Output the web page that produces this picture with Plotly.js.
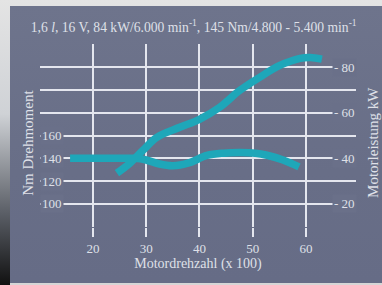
<!DOCTYPE html>
<html>
<head>
<meta charset="utf-8">
<script src="https://cdn.plot.ly/plotly-3.0.1.min.js"></script>
<style>
  html, body { margin: 0; padding: 0; width: 382px; height: 285px; overflow: hidden;
    background: linear-gradient(to bottom, #e4e4e4 0%, #cfd2d6 40%, #5a5e66 75%, #111 100%); }
  #panel { position: absolute; left: 10px; top: 6px; width: 372px; height: 277px;
    background: linear-gradient(to bottom, #6e748c 0%, #686e87 60%, #666c86 100%); }
  #bottom { position: absolute; left: 10px; top: 283px; width: 372px; height: 2px; background: #d6d6d6; }
  #chart { position: absolute; left: 0; top: 0; width: 382px; height: 285px; }
</style>
</head>
<body>
<div id="panel"></div>
<div id="bottom"></div>
<div id="chart"></div>
<script>
// Data
const torqueRpm = [15.7, 20, 25, 28, 30, 32.5, 35, 38, 41.4, 44.5, 47.6, 50.5, 52.7, 55.7, 58.7];
const torqueNm  = [140, 140, 140, 140, 138.5, 135, 133.5, 136, 142.5, 144.5, 145, 144.5, 142.7, 138.5, 132.5];
const powerRpm  = [24.5, 26.9, 29.4, 32, 36.3, 40, 43.8, 47.6, 51.3, 55.1, 58.9, 60.8, 63];
const powerKw   = [33.5, 37.8, 43.5, 49.2, 53.6, 57.1, 62.4, 69.8, 75.5, 80.7, 83.8, 84.2, 83.5];
const xTicks    = [20, 30, 40, 50, 60];
const leftTicks = [100, 120, 140, 160];
const rightTicks = [20, 40, 60, 80];

const panel = '#6a7089';
const teal = '#1ea7b9';
const txt = '#dfe0e8';
const grid = '#e4e6ee';
const serif = 'Liberation Serif, Times New Roman, serif';

const traces = [
  { x: torqueRpm, y: torqueNm, type: 'scatter', mode: 'lines', yaxis: 'y',
    line: { color: teal, width: 7.5, shape: 'spline', smoothing: 1 }, hoverinfo: 'skip' },
  { x: powerRpm, y: powerKw, type: 'scatter', mode: 'lines', yaxis: 'y2',
    line: { color: teal, width: 7.5, shape: 'spline', smoothing: 1 }, hoverinfo: 'skip' }
];

const annotations = [];
leftTicks.forEach(v => annotations.push({
  text: String(v), xref: 'paper', yref: 'y', x: 0.076, y: v, xanchor: 'right', yanchor: 'middle',
  showarrow: false, bgcolor: panel, borderpad: 1, font: { family: serif, size: 13, color: txt }
}));
rightTicks.forEach(v => annotations.push({
  text: '- ' + v, xref: 'paper', yref: 'y2', x: 0.924, y: v, xanchor: 'left', yanchor: 'middle',
  showarrow: false, bgcolor: panel, borderpad: 1, font: { family: serif, size: 13, color: txt }
}));
annotations.push({
  text: 'Nm Drehmoment', xref: 'paper', yref: 'paper', x: -0.038, y: 0.46, textangle: -90,
  xanchor: 'center', yanchor: 'middle', showarrow: false, font: { family: serif, size: 15, color: txt }
});
annotations.push({
  text: 'Motorleistung kW', xref: 'paper', yref: 'paper', x: 1.054, y: 0.46, textangle: -90,
  xanchor: 'center', yanchor: 'middle', showarrow: false, font: { family: serif, size: 15, color: txt }
});

const layout = {
  width: 382, height: 285,
  margin: { l: 40, r: 26, t: 44, b: 58 },
  paper_bgcolor: 'rgba(0,0,0,0)', plot_bgcolor: 'rgba(0,0,0,0)',
  showlegend: false,
  title: {
    text: '1,6 <i>l</i>, 16 V, 84 kW/6.000 min<sup>-1</sup>, 145 Nm/4.800 - 5.400 min<sup>-1</sup>',
    font: { family: serif, size: 13.6, color: txt },
    x: 0.507, xanchor: 'center', y: 0.905, yanchor: 'middle', yref: 'container'
  },
  xaxis: {
    range: [10.05, 69.4], tickvals: xTicks, ticktext: xTicks.map(String),
    showgrid: true, gridcolor: grid, gridwidth: 2, zeroline: false, showline: false,
    ticks: 'outside', ticklen: 9, tickwidth: 2, tickcolor: grid,
    tickfont: { family: serif, size: 13, color: txt },
    title: { text: 'Motordrehzahl (x 100)', font: { family: serif, size: 14, color: txt }, standoff: 2 }
  },
  yaxis: {
    range: [79.8, 240.2], dtick: 20, tick0: 80, showgrid: true, gridcolor: grid, gridwidth: 2,
    zeroline: false, showline: false, showticklabels: false, ticks: ''
  },
  yaxis2: {
    range: [9.9, 90.1], overlaying: 'y', side: 'right', showgrid: false, zeroline: false,
    showticklabels: false, ticks: ''
  },
  annotations: annotations
};

Plotly.newPlot('chart', traces, layout, { staticPlot: true, displayModeBar: false });
</script>
</body>
</html>
